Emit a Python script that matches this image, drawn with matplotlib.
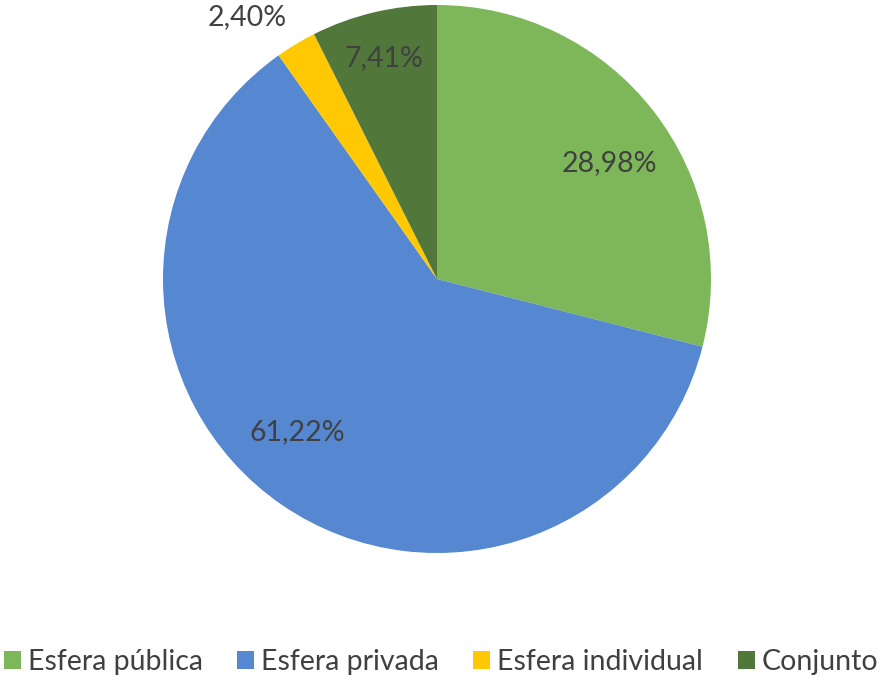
import matplotlib.pyplot as plt
import numpy as np

categories = ['Esfera pública', 'Esfera privada', 'Esfera individual', 'Conjunto']
values = [28.98, 61.22, 2.40, 7.41]
labels = ['28,98%', '61,22%', '2,40%', '7,41%']
colors = ['#7EB65A', '#5687D1', '#FFC800', '#52773A']

# label placement (radius fraction, angle in degrees) roughly as in the original
label_pos = [(0.76, 34.0), (0.755, -132.3), (1.18, 126.0), (0.83, 103.4)]

plt.rcParams['font.family'] = ['Lato', 'DejaVu Sans']

fig = plt.figure(figsize=(8.82, 6.82), dpi=100)
cx, cy, r = 437, 279, 274
W, H = 882, 682
ax = fig.add_axes([(cx - r) / W, (H - cy - r) / H, 2 * r / W, 2 * r / H])

wedges, _ = ax.pie(values, colors=colors, startangle=90, counterclock=False,
                   radius=1, wedgeprops=dict(linewidth=0))
ax.set_xlim(-1, 1)
ax.set_ylim(-1, 1)
ax.set_aspect('equal')
ax.axis('off')

for lab, (d, ang) in zip(labels, label_pos):
    a = np.deg2rad(ang)
    ax.text(d * np.cos(a), d * np.sin(a), lab, ha='center', va='center',
            fontsize=20.5, color='#404040')

leg = fig.legend(wedges, categories, loc='center', bbox_to_anchor=(0.5, 1 - 662 / H),
                 ncol=4, frameon=False, fontsize=20.5, handlelength=0.6,
                 handleheight=0.6, handletextpad=0.25, columnspacing=1.2,
                 labelcolor='#404040')
for h in leg.legend_handles:
    h.set_linewidth(0)

fig.savefig('out.png', dpi=100)
